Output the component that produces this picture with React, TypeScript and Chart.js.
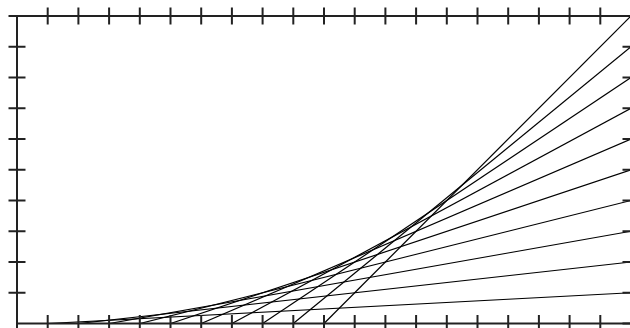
import React, { useEffect, useRef } from 'react';
import { Chart, registerables } from 'chart.js';

Chart.register(...registerables);

// Family of straight lines: each runs from (start, 0) on the bottom edge to (20, end) on the right edge
const lineStartX = [1, 2, 3, 4, 5, 6, 7, 8, 9, 10];
const lineEndY = [1, 2, 3, 4, 5, 6, 7, 8, 9, 10];
const lineEndX = 20;
const lineBaseY = 0;

// Tick positions on the four sides of the frame
const leftTicks = [1, 2, 3, 4, 5, 6, 7, 8, 9, 10];
const rightTicks = [0, 1, 2, 3, 4, 5, 6, 7, 8, 9];
const topTicks = [1, 2, 3, 4, 5, 6, 7, 8, 9, 10, 11, 12, 13, 14, 15, 16, 17, 18, 19, 20];
const bottomTicks = [0, 1, 2, 3, 4, 5, 6, 7, 8, 9, 10, 11, 12, 13, 14, 15, 16, 17, 18, 19];

const X_MIN = 0;
const X_MAX = 20;
const Y_MIN = 0;
const Y_MAX = 10;

const frameTicksPlugin = {
  id: 'frameTicks',
  afterDatasetsDraw(chart: any) {
    const { ctx, chartArea, scales } = chart;
    const xs = scales.x;
    const ys = scales.y;
    const half = 8.5;
    ctx.save();
    ctx.strokeStyle = '#222';
    ctx.lineWidth = 2;
    ctx.lineCap = 'butt';
    ctx.beginPath();
    ctx.rect(chartArea.left, chartArea.top, chartArea.right - chartArea.left, chartArea.bottom - chartArea.top);
    ctx.stroke();
    ctx.beginPath();
    leftTicks.forEach((v) => {
      const py = ys.getPixelForValue(v);
      ctx.moveTo(chartArea.left - half, py);
      ctx.lineTo(chartArea.left + half, py);
    });
    rightTicks.forEach((v) => {
      const py = ys.getPixelForValue(v);
      ctx.moveTo(chartArea.right - half, py);
      ctx.lineTo(chartArea.right + half, py);
    });
    topTicks.forEach((v) => {
      const px = xs.getPixelForValue(v);
      ctx.moveTo(px, chartArea.top - half);
      ctx.lineTo(px, chartArea.top + half);
    });
    bottomTicks.forEach((v) => {
      const px = xs.getPixelForValue(v);
      ctx.moveTo(px, chartArea.bottom - half);
      ctx.lineTo(px, chartArea.bottom + half);
    });
    ctx.stroke();
    ctx.restore();
  },
};

export default function App() {
  const canvasRef = useRef<HTMLCanvasElement | null>(null);

  useEffect(() => {
    if (!canvasRef.current) return;
    const datasets = lineStartX.map((sx, i) => ({
      data: [
        { x: sx, y: lineBaseY },
        { x: lineEndX, y: lineEndY[i] },
      ],
      borderColor: '#000',
      borderWidth: 1.2,
      pointRadius: 0,
      fill: false,
      tension: 0,
    }));
    const chart = new Chart(canvasRef.current, {
      type: 'line',
      data: { datasets },
      options: {
        animation: false,
        responsive: false,
        events: [],
        layout: { padding: { left: 17, top: 16, right: 29, bottom: 26.5 } },
        plugins: { legend: { display: false }, tooltip: { enabled: false } },
        scales: {
          x: { type: 'linear', min: X_MIN, max: X_MAX, display: false },
          y: { type: 'linear', min: Y_MIN, max: Y_MAX, display: false },
        },
      },
      plugins: [frameTicksPlugin],
    });
    return () => chart.destroy();
  }, []);

  return (
    <div style={{ position: 'fixed', left: 0, top: 0, width: 630, height: 328, overflow: 'hidden', background: '#fff' }}>
      <canvas ref={canvasRef} width={660} height={350} style={{ position: 'absolute', left: 0, top: 0, width: 660, height: 350 }} />
    </div>
  );
}
